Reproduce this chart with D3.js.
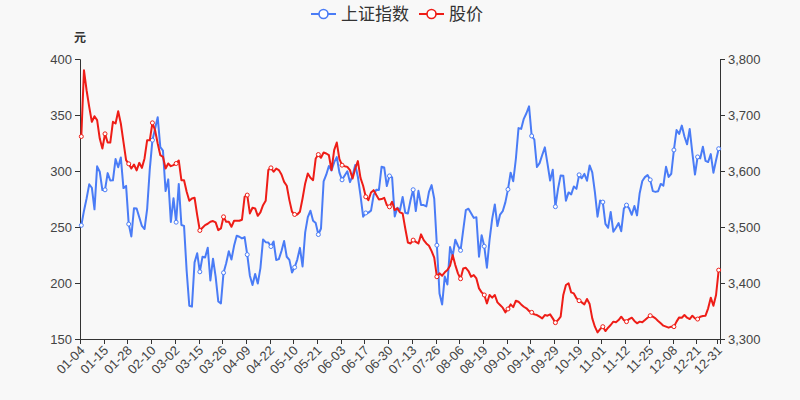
<!DOCTYPE html>
<html>
<head>
<meta charset="utf-8">
<script src="https://cdn.jsdelivr.net/npm/d3@7"></script>
<style>
  html, body { margin: 0; padding: 0; background: #f8f8f8; }
  svg { display: block; }
  text { font-family: "Liberation Sans", Arial, "Noto Sans CJK SC", sans-serif; }
</style>
</head>
<body>
<svg id="chart" width="800" height="400"></svg>
<script>
const dates = [
"01-04","01-05","01-06","01-07","01-08","01-11","01-12","01-13","01-14","01-15","01-18","01-19","01-20","01-21","01-22","01-25","01-26","01-27","01-28","01-29",
"02-01","02-02","02-03","02-04","02-05","02-08","02-09","02-10","02-18","02-19","02-22","02-23","02-24","02-25","02-26",
"03-01","03-02","03-03","03-04","03-05","03-08","03-09","03-10","03-11","03-12","03-15","03-16","03-17","03-18","03-19","03-22","03-23","03-24","03-25","03-26","03-29","03-30","03-31",
"04-01","04-02","04-06","04-07","04-08","04-09","04-12","04-13","04-14","04-15","04-16","04-19","04-20","04-21","04-22","04-23","04-26","04-27","04-28","04-29","04-30",
"05-06","05-07","05-10","05-11","05-12","05-13","05-14","05-17","05-18","05-19","05-20","05-21","05-24","05-25","05-26","05-27","05-28","05-31",
"06-01","06-02","06-03","06-04","06-07","06-08","06-09","06-10","06-11","06-15","06-16","06-17","06-18","06-21","06-22","06-23","06-24","06-25","06-28","06-29","06-30",
"07-01","07-02","07-05","07-06","07-07","07-08","07-09","07-12","07-13","07-14","07-15","07-16","07-19","07-20","07-21","07-22","07-23","07-26","07-27","07-28","07-29","07-30",
"08-02","08-03","08-04","08-05","08-06","08-09","08-10","08-11","08-12","08-13","08-16","08-17","08-18","08-19","08-20","08-23","08-24","08-25","08-26","08-27","08-30","08-31",
"09-01","09-02","09-03","09-06","09-07","09-08","09-09","09-10","09-13","09-14","09-15","09-16","09-17","09-22","09-23","09-24","09-27","09-28","09-29","09-30",
"10-08","10-11","10-12","10-13","10-14","10-15","10-18","10-19","10-20","10-21","10-22","10-25","10-26","10-27","10-28","10-29",
"11-01","11-02","11-03","11-04","11-05","11-08","11-09","11-10","11-11","11-12","11-15","11-16","11-17","11-18","11-19","11-22","11-23","11-24","11-25","11-26","11-29","11-30",
"12-01","12-02","12-03","12-06","12-07","12-08","12-09","12-10","12-13","12-14","12-15","12-16","12-17","12-20","12-21","12-22","12-23","12-24","12-27","12-28","12-29","12-30","12-31"
];

const shIndex = [
3502.96,3528.68,3550.88,3576.20,3570.11,3531.50,3608.34,3598.65,3565.90,3566.38,3596.22,3583.09,3583.35,3621.26,3606.75,3624.24,3569.43,3573.34,3505.18,3483.07,
3533.68,3533.05,3517.31,3501.86,3496.33,3532.44,3603.49,3655.09,3675.36,3696.17,3642.44,3636.36,3564.08,3585.05,3509.08,
3551.40,3508.59,3576.90,3503.49,3501.99,3421.41,3359.29,3357.74,3436.83,3453.08,3419.95,3446.73,3445.55,3463.07,3404.66,3443.44,3411.51,3367.06,3363.59,3418.33,3435.30,3456.68,3441.91,
3466.33,3484.39,3482.55,3479.63,3482.06,3450.68,3412.95,3396.47,3416.21,3398.99,3426.62,3477.55,3472.94,3472.31,3465.11,3474.17,3441.17,3442.61,3457.07,3474.90,3446.86,
3441.28,3418.87,3427.99,3441.85,3462.75,3429.54,3490.38,3517.62,3529.01,3510.96,3506.94,3486.56,3497.28,3581.34,3593.36,3608.85,3600.78,3615.48,
3624.71,3597.14,3584.22,3591.84,3599.54,3580.11,3591.40,3610.86,3589.75,3556.56,3518.33,3525.10,3525.60,3529.18,3557.41,3566.65,3566.22,3607.56,3606.37,3573.18,3591.20,
3588.78,3518.76,3534.32,3530.26,3553.72,3525.50,3524.09,3547.84,3566.59,3528.50,3564.59,3539.30,3539.12,3536.79,3562.70,3574.73,3550.40,3467.44,3381.18,3361.59,3411.72,3397.36,
3464.29,3447.99,3477.22,3466.56,3458.23,3494.63,3529.93,3532.62,3524.74,3516.30,3517.34,3446.98,3485.29,3465.55,3427.33,3477.13,3514.47,3540.38,3501.66,3522.16,3528.15,3543.94,
3567.10,3597.04,3581.73,3621.86,3676.59,3675.19,3693.13,3703.11,3715.37,3662.60,3656.22,3607.09,3613.97,3628.49,3642.22,3613.07,3582.83,3602.22,3536.29,3568.17,
3592.17,3591.71,3546.94,3561.76,3558.28,3572.37,3568.14,3593.15,3587.00,3594.78,3582.60,3609.86,3597.64,3562.31,3518.42,3547.34,
3544.48,3505.63,3498.54,3526.87,3491.57,3498.63,3507.00,3492.46,3532.79,3539.10,3533.30,3521.79,3537.37,3520.71,3560.37,3582.08,3589.09,3592.70,3584.18,3564.09,3562.70,3563.89,
3576.89,3573.84,3607.43,3589.31,3595.09,3637.57,3673.04,3666.35,3681.08,3661.53,3647.63,3675.02,3632.36,3593.60,3625.13,3622.62,3643.34,3618.05,3615.97,3630.11,3597.00,3619.19,3639.78
];

const price = [
330.8,390.0,372.1,357.3,343.9,348.9,345.4,329.0,320.1,333.2,
325.4,325.4,343.9,342.4,353.4,342.4,326.0,309.7,306.4,302.2,
305.8,300.5,307.3,302.8,311.2,327.5,327.5,343.0,336.4,324.5,
314.1,312.7,302.2,306.7,304.3,305.2,306.7,309.4,291.8,291.8,
281.4,273.4,275.5,276.1,260.6,246.9,249.3,251.7,252.9,254.7,
255.3,254.1,247.2,248.7,259.1,254.7,254.7,250.2,255.6,255.6,
255.6,256.5,277.0,278.5,262.1,267.2,266.6,260.0,263.0,269.5,
273.4,300.8,302.8,299.3,302.2,300.8,296.9,290.3,286.8,274.0,
263.6,261.2,261.2,263.6,275.5,288.9,297.8,293.9,291.8,311.2,
314.7,311.8,316.5,315.6,314.1,300.8,318.6,325.4,310.6,305.2,
304.3,303.7,300.8,293.3,302.2,308.8,293.9,286.8,277.0,274.0,
280.8,282.9,278.5,274.6,274.9,276.1,269.5,268.0,272.5,265.1,
266.6,263.0,262.1,248.7,236.2,235.3,238.3,236.8,235.3,243.4,
238.3,235.3,233.3,228.5,222.6,205.6,208.6,206.5,209.5,211.6,
215.4,224.9,216.0,208.6,203.8,213.0,213.6,210.7,205.6,207.1,
204.1,195.2,191.6,189.3,181.8,189.3,186.9,189.3,182.7,180.3,
178.0,173.8,176.8,180.9,178.5,184.2,183.3,180.9,178.8,177.4,
175.0,173.8,172.0,171.4,169.9,168.4,171.4,170.8,172.0,168.4,
164.6,166.9,169.9,189.3,198.2,199.7,191.6,190.7,186.3,184.2,
182.7,180.9,185.7,181.2,168.4,161.0,155.9,158.9,161.0,157.1,
160.1,162.5,165.5,164.9,166.9,169.9,166.9,165.5,167.8,169.0,
166.1,164.0,165.5,164.9,166.9,169.0,170.8,169.9,168.4,166.1,
164.0,161.9,161.0,160.1,161.0,161.0,165.5,169.3,169.0,171.4,
169.0,167.8,170.8,168.4,167.8,169.9,170.5,170.8,177.4,186.9,
179.7,189.3,211.5
];

const leftTicks = [150, 200, 250, 300, 350, 400];
const rightTicks = [3300, 3400, 3500, 3600, 3700, 3800];
const seriesNames = ["上证指数", "股价"];
const seriesColors = ["#4a7cf6", "#ee1d17"];
const leftUnit = "元";

const svg = d3.select("#chart");
const L = 80, R = 720, T = 59, B = 339;
const axisColor = "#333";
const labelColor = "#444";

const x = d3.scaleBand().domain(dates).range([L, R]).paddingInner(0).paddingOuter(0);
const bw = x.bandwidth();
const cx = d => x(d) + bw / 2;
const yL = d3.scaleLinear().domain([150, 400]).range([B, T]);
const yR = d3.scaleLinear().domain([3300, 3800]).range([B, T]);

// left axis
const gL = svg.append("g").attr("transform", `translate(${L},0)`)
  .call(d3.axisLeft(yL).tickValues(leftTicks).tickSize(5).tickPadding(3).tickFormat(d3.format("d")));
gL.select(".domain").attr("stroke", axisColor);
gL.selectAll(".tick line").attr("stroke", axisColor);
gL.selectAll(".tick text").attr("fill", labelColor).style("font-size", "13px")
  .style("font-family", '"Liberation Sans", Arial, sans-serif');

// right axis
const gR = svg.append("g").attr("transform", `translate(${R},0)`)
  .call(d3.axisRight(yR).tickValues(rightTicks).tickSize(5).tickPadding(3).tickFormat(d3.format(",")));
gR.select(".domain").attr("stroke", axisColor);
gR.selectAll(".tick line").attr("stroke", axisColor);
gR.selectAll(".tick text").attr("fill", labelColor).style("font-size", "13px")
  .style("font-family", '"Liberation Sans", Arial, sans-serif');

// x axis
const labelIdx = dates.map((d, i) => i).filter(i => i % 9 === 0 || i === dates.length - 1);
const gX = svg.append("g");
gX.append("line").attr("x1", L).attr("x2", R).attr("y1", B + 0.5).attr("y2", B + 0.5)
  .attr("stroke", axisColor);
const tickXs = labelIdx.map(i => x(dates[i])).concat([R]);
gX.selectAll("line.tk").data(tickXs).join("line").attr("class", "tk")
  .attr("x1", d => Math.round(d) + 0.5).attr("x2", d => Math.round(d) + 0.5)
  .attr("y1", B).attr("y2", B + 5).attr("stroke", axisColor);
gX.selectAll("text.xl").data(labelIdx).join("text").attr("class", "xl")
  .attr("transform", i => `translate(${cx(dates[i]) + 1},${B + 9}) rotate(-45)`)
  .attr("text-anchor", "end").attr("dominant-baseline", "central")
  .attr("fill", labelColor).style("font-size", "13px")
  .text(i => dates[i]);

// unit label
svg.append("text").attr("x", L).attr("y", 38).attr("text-anchor", "middle")
  .attr("dominant-baseline", "central").style("font-size", "12px").style("font-weight", "bold")
  .attr("fill", "#333").text(leftUnit);

// lines
const lineR = d3.line().x((d, i) => cx(dates[i])).y(d => yR(d));
const lineL = d3.line().x((d, i) => cx(dates[i])).y(d => yL(d));
const markIdx = labelIdx;

function drawSeries(vals, line, yScale, color) {
  svg.append("path").datum(vals).attr("d", line).attr("fill", "none")
    .attr("stroke", color).attr("stroke-width", 2).attr("stroke-linejoin", "round");
  svg.selectAll(null).data(markIdx).join("circle")
    .attr("cx", i => cx(dates[i])).attr("cy", i => yScale(vals[i])).attr("r", 2)
    .attr("fill", "#fff").attr("stroke", color).attr("stroke-width", 1);
}
drawSeries(shIndex, lineR, yR, seriesColors[0]);
drawSeries(price, lineL, yL, seriesColors[1]);

// legend
const legend = svg.append("g");
let lx = 311;
seriesNames.forEach((name, k) => {
  const g = legend.append("g").attr("transform", `translate(${lx},14)`);
  g.append("line").attr("x1", 0).attr("x2", 25).attr("y1", 0).attr("y2", 0)
    .attr("stroke", seriesColors[k]).attr("stroke-width", 2);
  g.append("circle").attr("cx", 12.5).attr("cy", 0).attr("r", 4.5)
    .attr("fill", "#fff").attr("stroke", seriesColors[k]).attr("stroke-width", 1.6);
  const t = g.append("text").attr("x", 30).attr("y", 0).attr("dominant-baseline", "central")
    .style("font-size", "17px").attr("fill", "#333").text(name);
  lx += 30 + t.node().getComputedTextLength() + 10;
});
</script>
</body>
</html>
